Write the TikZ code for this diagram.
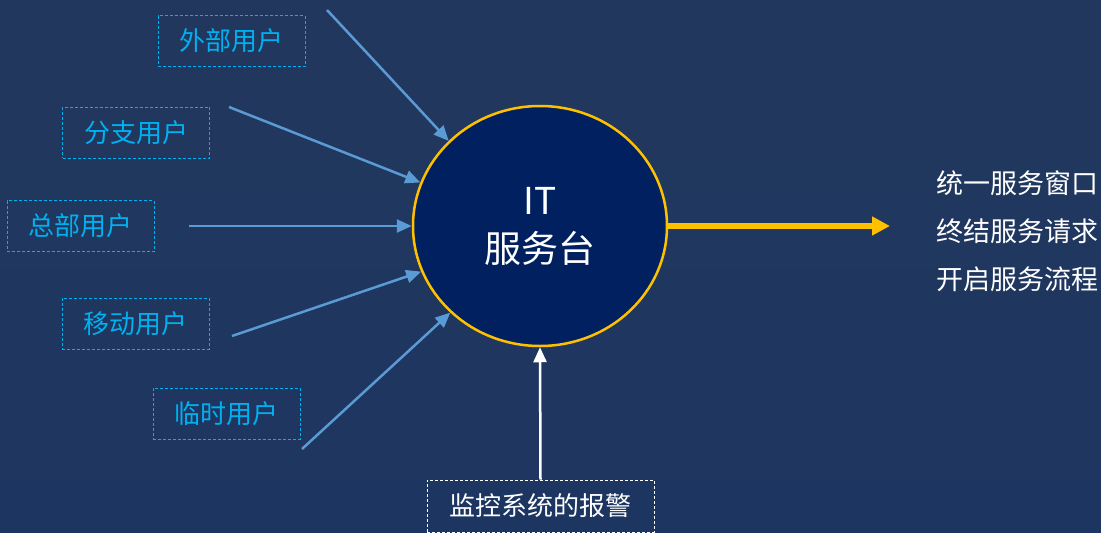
\documentclass[tikz,border=0pt]{standalone}
\usepackage{fontspec}
\setmainfont{Noto Sans CJK SC}
\usetikzlibrary{arrows.meta,shapes.geometric}
\definecolor{bgtop}{RGB}{34,55,93}
\definecolor{bgbot}{RGB}{29,54,97}
\definecolor{hub}{RGB}{0,32,96}
\definecolor{ring}{RGB}{255,192,0}
\definecolor{arrowblue}{RGB}{91,155,213}
\definecolor{cyantext}{RGB}{0,176,240}
\begin{document}
\begin{tikzpicture}[x=1pt,y=-1pt,
  userbox/.style={draw=cyantext, line width=1pt, dash pattern=on 3pt off 2pt,
    text=cyantext, minimum width=147pt, minimum height=51pt, inner sep=0pt,
    font=\fontsize{26}{30}\selectfont},
  monbox/.style={draw=white, line width=1pt, dash pattern=on 3pt off 2pt,
    text=white, minimum width=227pt, minimum height=52pt, inner sep=0pt,
    font=\fontsize{26}{30}\selectfont},
  feed/.style={draw=arrowblue, line width=2.5pt, -{Triangle[length=15pt,width=13pt]}},
  alarm/.style={draw=white, line width=2.5pt, -{Triangle[length=15pt,width=13pt]}},
  outflow/.style={draw=ring, line width=5.5pt, -{Triangle[length=18pt,width=18pt]}},
  hubnode/.style={ellipse, draw=ring, line width=2.5pt, fill=hub,
    minimum width=254pt, minimum height=240pt, inner sep=0pt, text=white,
    align=center, font=\fontsize{37}{48}\selectfont},
  outtext/.style={anchor=west, text=white, inner sep=0pt, align=left,
    font=\fontsize{27}{48}\selectfont}]
  % background
  \shade[top color=bgtop, bottom color=bgbot] (0,0) rectangle (1101,533);
  \useasboundingbox (0,0) rectangle (1101,533);
  % hub
  \node[hubnode] (it) at (540,226) {IT\\服务台};
  % user boxes
  \node[userbox] (ext) at (231.5,41) {外部用户};
  \node[userbox] (branch) at (136,132.5) {分支用户};
  \node[userbox] (hq) at (80.5,226) {总部用户};
  \node[userbox] (mobile) at (135.5,323.5) {移动用户};
  \node[userbox] (temp) at (226.5,413.5) {临时用户};
  % monitoring box
  \node[monbox] (mon) at (540.5,506) {监控系统的报警};
  % output text
  \node[outtext] (out) at (936,231) {统一服务窗口\\终结服务请求\\开启服务流程};
  % free ends
  \coordinate (s1) at (327,10);
  \coordinate (s2) at (229,107);
  \coordinate (s3) at (189,226);
  \coordinate (s4) at (232,336);
  \coordinate (s5) at (302,449);
  \coordinate (yend) at (890,226);
  % connectors
  \draw[feed] (s1) -- (it.137);
  \draw[feed] (s2) -- (it.160);
  \draw[feed] (s3) -- (it.west);
  \draw[feed] (s4) -- (it.201);
  \draw[feed] (s5) -- (it.224);
  \draw[alarm] (mon.north) -- (it.south);
  \draw[outflow] (it.east) -- (yend);
\end{tikzpicture}
\end{document}
